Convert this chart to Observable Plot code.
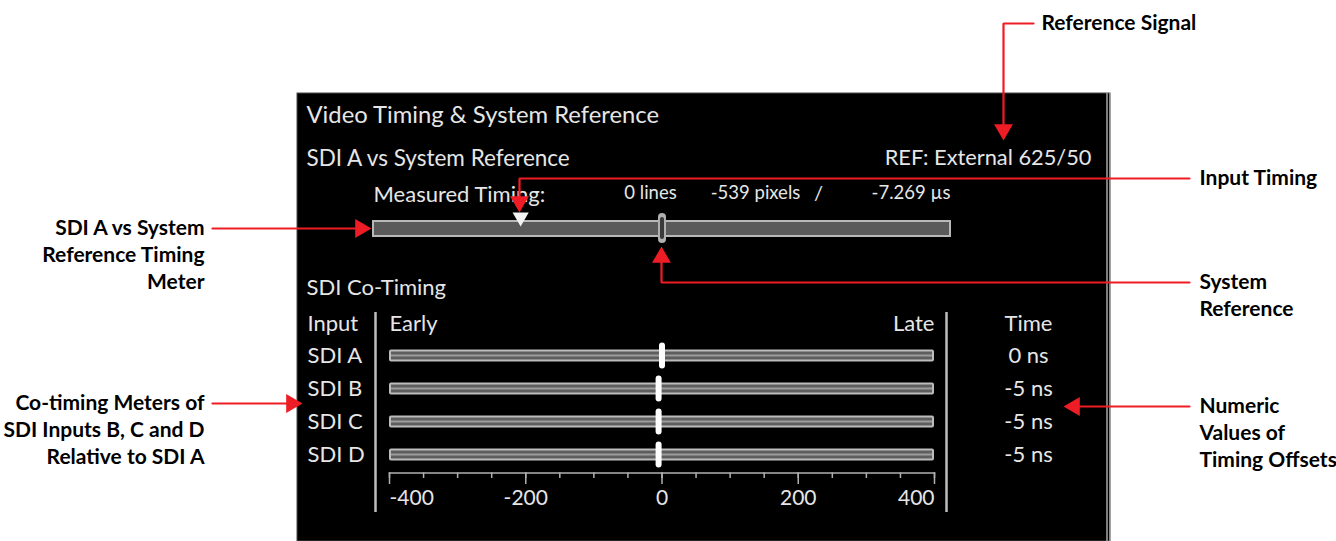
<!DOCTYPE html>
<html><head><meta charset="utf-8">
<script src="https://cdn.jsdelivr.net/npm/d3@7"></script>
<script src="https://cdn.jsdelivr.net/npm/@observablehq/plot@0.6"></script>
<style>
html,body{margin:0;padding:0;background:#fff;}
#chart{position:relative;width:1336px;height:541px;overflow:hidden;background:#fff;}
#chart svg{position:absolute;left:0;top:0;}
</style></head><body><div id="chart"></div>
<script>
// ---------------- data ----------------
const inputs = ["SDI A", "SDI B", "SDI C", "SDI D"];
const coTimingNs = [0, -5, -5, -5];
const coTimingRange = [-400, 400];
const majorTicks = [-400, -200, 0, 200, 400];
const minorTicks = [-400, -350, -300, -250, -200, -150, -100, -50, 0, 50, 100, 150, 200, 250, 300, 350, 400];
const timingRange = [-1100, 1100];          // pixels covered by the SDI A vs reference meter
const systemReference = 0;
const measuredLines = 0;
const measuredPixels = -539;
const measuredMicroseconds = -7.269;
const panelTitle = "Video Timing & System Reference";
const sectionTitles = ["SDI A vs System Reference", "SDI Co-Timing"];
const referenceSignal = "REF: External 625/50";
const measuredLabel = "Measured Timing:";
const columnHeaders = ["Input", "Early", "Late", "Time"];
const annotationTexts = [
  ["Reference Signal"],
  ["Input Timing"],
  ["System", "Reference"],
  ["SDI A vs System", "Reference Timing", "Meter"],
  ["Co-timing Meters of", "SDI Inputs B, C and D", "Relative to SDI A"],
  ["Numeric", "Values of", "Timing Offsets"]
];

// ---------------- layout & style ----------------
const W = 1336, H = 541;
const FONT = "Lato, 'Open Sans', sans-serif";
const PANEL_TEXT = "#e6e6e6";
const RED = "#ee1c24";
const panelBox = {x1: 297, x2: 1110, y1: 93, y2: 541};
const panelEdges = [1106.5, 1109.5];
const separators = {x: [375, 946], y1: 312, y2: 512};
const annotationPos = [
  {x: 1041, y: 23, anchor: "start"},
  {x: 1199, y: 178, anchor: "start"},
  {x: 1199, y: 282, anchor: "start"},
  {x: 204, y: 228, anchor: "end"},
  {x: 204, y: 403, anchor: "end"},
  {x: 1199, y: 406, anchor: "start"}
];
const lineGap = 26.7;
const arrowPaths = [
  [[1033, 23], [1003, 23], [1003, 140]],
  [[1189, 178], [519, 178], [519, 212]],
  [[1189, 282], [661, 282], [661, 246]],
  [[212, 228], [371, 228]],
  [[212, 403], [302, 403]],
  [[1189, 406], [1063, 406]]
];
const headR = 7;
const headHalf = Math.sqrt(Math.PI * headR * headR / (3 * Math.sqrt(3)));

// panel text items
const panelTexts = [
  {text: panelTitle, x: 306, y: 115, size: 23.8, anchor: "start"},
  {text: sectionTitles[0], x: 306, y: 158, size: 22.5, anchor: "start"},
  {text: sectionTitles[1], x: 306, y: 287, size: 22, anchor: "start"},
  {text: measuredLabel, x: 373, y: 194, size: 22, anchor: "start"},
  {text: referenceSignal, x: 1091, y: 158, size: 21.8, anchor: "end"},
  {text: `${measuredLines} lines`, x: 650, y: 193, size: 18.5, anchor: "middle"},
  {text: `${measuredPixels} pixels`, x: 755, y: 193, size: 18.5, anchor: "middle"},
  {text: "/", x: 818, y: 193, size: 20, anchor: "middle"},
  {text: `${measuredMicroseconds} µs`, x: 950, y: 193, size: 18.5, anchor: "end"}
];

const annotationItems = annotationTexts.flatMap((lines, k) =>
  lines.map((t, j) => ({text: t, x: annotationPos[k].x, y: annotationPos[k].y + j * lineGap, anchor: annotationPos[k].anchor})));

const arrowLines = [], arrowHeads = [];
arrowPaths.forEach((p, id) => {
  const tip = p[p.length - 1], prev = p[p.length - 2];
  const dx = tip[0] - prev[0], dy = tip[1] - prev[1];
  const len = Math.hypot(dx, dy), ux = dx / len, uy = dy / len;
  const headLen = 3 * headHalf;
  p.slice(0, -1).forEach(([x, y]) => arrowLines.push({id, x, y}));
  arrowLines.push({id, x: tip[0] - ux * (headLen - 2), y: tip[1] - uy * (headLen - 2)});
  arrowHeads.push({x: tip[0] - ux * 2 * headHalf, y: tip[1] - uy * 2 * headHalf,
                   rotate: Math.atan2(ux, -uy) * 180 / Math.PI});
});

const pixelX = {domain: [0, W], range: [0, W], axis: null};
const pixelY = {domain: [0, H], range: [0, H], axis: null};
const baseStyle = {background: "transparent", fontFamily: FONT, overflow: "visible"};

// ---------------- layer 1: panel, headings, annotations ----------------
const frameLayer = Plot.plot({
  width: W, height: H, margin: 0,
  x: pixelX, y: pixelY,
  style: baseStyle,
  marks: [
    Plot.rect([panelBox], {x1: "x1", x2: "x2", y1: "y1", y2: "y2", fill: "black", stroke: "#4a4a4a", strokeWidth: 1}),
    Plot.ruleX(panelEdges, {x: d => d, y1: panelBox.y1, y2: panelBox.y2, stroke: "#a6a6a6", strokeWidth: 1.5}),
    Plot.ruleX(separators.x, {x: d => d, y1: separators.y1, y2: separators.y2, stroke: "#bdbdbd", strokeWidth: 2.5}),
    ...["start", "middle", "end"].map(a => Plot.text(panelTexts.filter(d => d.anchor === a),
      {x: "x", y: "y", text: "text", fontSize: "size", textAnchor: a, fill: PANEL_TEXT})),
    ...["start", "end"].map(a => Plot.text(annotationItems.filter(d => d.anchor === a),
      {x: "x", y: "y", text: "text", fontSize: 21, fontWeight: "bold", textAnchor: a, fill: "#000"})),
    Plot.line(arrowLines, {x: "x", y: "y", z: "id", stroke: RED, strokeWidth: 2.2, strokeLinejoin: "miter"}),
    Plot.dot(arrowHeads, {x: "x", y: "y", rotate: "rotate", symbol: "triangle", r: headR, fill: RED, stroke: "none"})
  ]
});

// ---------------- layer 2: SDI A vs System Reference meter ----------------
const timingLayer = Plot.plot({
  width: W, height: H,
  marginLeft: 373, marginRight: W - 950, marginTop: 221, marginBottom: H - 236,
  x: {domain: timingRange, axis: null},
  style: baseStyle,
  marks: [
    Plot.barX([timingRange], {x1: d => d[0], x2: d => d[1], fill: "#5a5a5a", stroke: "#b8b8b8", strokeWidth: 2}),
    Plot.tickX([systemReference], {x: d => d, stroke: "#b0b0b0", strokeWidth: 8, strokeLinecap: "round", insetTop: -4, insetBottom: -3}),
    Plot.tickX([systemReference], {x: d => d, stroke: "#3a3a3a", strokeWidth: 4, strokeLinecap: "round", insetTop: -2, insetBottom: -1}),
    Plot.dot([measuredPixels], {x: d => d, frameAnchor: "top", dy: -4.3, symbol: "triangle", rotate: 180, r: 6, fill: "#f4f4f4", stroke: "none"})
  ]
});

// ---------------- layer 3: SDI co-timing meters ----------------
const coRows = inputs.map((input, i) => ({input, ns: coTimingNs[i]}));
const coLeft = 389, coRight = 934;
const labelSize = 22;
const coLayer = Plot.plot({
  width: W, height: H,
  marginLeft: coLeft, marginRight: W - coRight, marginTop: 338.5, marginBottom: 70.5,
  x: {domain: coTimingRange, axis: null},
  y: {domain: inputs, padding: 0, axis: null},
  style: baseStyle,
  marks: [
    Plot.barX(coRows, {x1: () => coTimingRange[0], x2: () => coTimingRange[1], y: "input", fill: "#bcbcbc", insetTop: 10.5, insetBottom: 10.5, rx: 2}),
    Plot.barX(coRows, {x1: () => coTimingRange[0], x2: () => coTimingRange[1], y: "input", fill: "#5e5e5e", insetTop: 12.5, insetBottom: 12.5, insetLeft: 2, insetRight: 2}),
    Plot.barX(coRows, {x1: () => coTimingRange[0], x2: () => coTimingRange[1], y: "input", fill: "#9c9c9c", insetTop: 15.5, insetBottom: 15.5, insetLeft: 2, insetRight: 2}),
    Plot.tickX(coRows, {x: "ns", y: "input", stroke: "#ffffff", strokeWidth: 6, strokeLinecap: "round", insetTop: 6.5, insetBottom: 6.5}),
    Plot.text(coRows, {y: "input", text: "input", frameAnchor: "left", textAnchor: "start", lineAnchor: "middle", dx: 307 - coLeft, fontSize: labelSize, fill: PANEL_TEXT}),
    Plot.text(coRows, {y: "input", text: d => `${d.ns} ns`, frameAnchor: "right", textAnchor: "middle", lineAnchor: "middle", dx: 1028 - coRight, fontSize: labelSize, fill: PANEL_TEXT}),
    Plot.text([columnHeaders[0]], {text: d => d, frameAnchor: "top-left", textAnchor: "start", lineAnchor: "middle", dx: 307 - coLeft, dy: -15.5, fontSize: labelSize, fill: PANEL_TEXT}),
    Plot.text([columnHeaders[1]], {text: d => d, frameAnchor: "top-left", textAnchor: "start", lineAnchor: "middle", dy: -15.5, fontSize: labelSize, fill: PANEL_TEXT}),
    Plot.text([columnHeaders[2]], {text: d => d, frameAnchor: "top-right", textAnchor: "end", lineAnchor: "middle", dy: -15.5, fontSize: labelSize, fill: PANEL_TEXT}),
    Plot.text([columnHeaders[3]], {text: d => d, frameAnchor: "top-right", textAnchor: "middle", lineAnchor: "middle", dx: 1028 - coRight, dy: -15.5, fontSize: labelSize, fill: PANEL_TEXT}),
    Plot.frame({anchor: "bottom", stroke: "#b0b0b0", strokeWidth: 1.5, dy: 2}),
    Plot.axisX({ticks: minorTicks, tickSize: 5.5, tickFormat: () => "", stroke: "#b0b0b0", strokeWidth: 1.5, dy: 2, label: null}),
    Plot.axisX({ticks: majorTicks, tickSize: 11.5, tickFormat: () => "", stroke: "#b0b0b0", strokeWidth: 1.5, dy: 2, label: null}),
    Plot.text(majorTicks.filter(d => d === coTimingRange[0]), {x: d => d, text: d => String(d), frameAnchor: "bottom", textAnchor: "start", lineAnchor: "middle", dy: 27.5, fontSize: 21, fill: PANEL_TEXT}),
    Plot.text(majorTicks.filter(d => d !== coTimingRange[0] && d !== coTimingRange[1]), {x: d => d, text: d => String(d), frameAnchor: "bottom", textAnchor: "middle", lineAnchor: "middle", dy: 27.5, fontSize: 21, fill: PANEL_TEXT}),
    Plot.text(majorTicks.filter(d => d === coTimingRange[1]), {x: d => d, text: d => String(d), frameAnchor: "bottom", textAnchor: "end", lineAnchor: "middle", dy: 27.5, fontSize: 21, fill: PANEL_TEXT})
  ]
});

const chart = document.getElementById("chart");
chart.append(frameLayer, timingLayer, coLayer);
</script></body></html>
